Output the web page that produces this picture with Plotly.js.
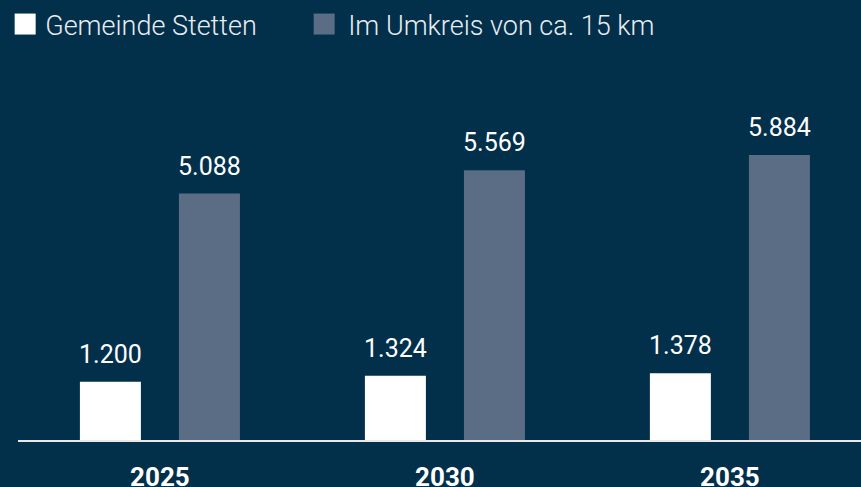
<!DOCTYPE html>
<html><head><meta charset="utf-8">
<script src="https://cdn.plot.ly/plotly-3.0.1.min.js"></script>
<style>html,body{margin:0;padding:0;background:#022f4a;}#chart{width:861px;height:487px;}</style>
</head><body><div id="chart"></div>
<script>
const years = ['2025', '2030', '2035'];
const seriesNames = ['Gemeinde Stetten', 'Im Umkreis von ca. 15 km'];
const stetten = [1200, 1324, 1378];
const umkreis = [5088, 5569, 5884];
const fmt = v => v.toLocaleString('de-DE');

const bg = '#022f4a';
const traces = [
  {type:'bar', name: seriesNames[0], x: years, y: stetten, marker:{color:'#ffffff'}},
  {type:'bar', name: seriesNames[1], x: years, y: umkreis, marker:{color:'#5a6d85'}}
];
const labelFont = {family:'Roboto, sans-serif', size:25, color:'#ffffff'};
const annotations = [];
[stetten, umkreis].forEach((vals, si) => {
  vals.forEach((v, i) => {
    // category axis position = index of the year in the years array
    annotations.push({x: years.indexOf(years[i]), y: v, xref:'x', yref:'y', text: fmt(v), showarrow:false,
      xshift: si === 0 ? -49.5 : 49.5, yshift: 11, yanchor:'bottom', font: labelFont});
  });
});
const layout = {
  width:861, height:487,
  paper_bgcolor:bg, plot_bgcolor:bg,
  margin:{l:18, r:0, t:60, b:47},
  barmode:'group', bargap:0.305, bargroupgap:0.384,
  font:{family:'Roboto, sans-serif', color:'#ffffff'},
  annotations: annotations,
  xaxis:{type:'category', range:[-0.498, 2.46], showgrid:false, zeroline:false,
    showline:true, linecolor:'#e8e8e8', linewidth:2, ticks:'', ticklabelstandoff:13,
    tickfont:{family:'Roboto, sans-serif', size:26, weight:700, color:'#ffffff'}},
  yaxis:{range:[0, 7845], visible:false, showgrid:false, zeroline:false},
  showlegend:true,
  legend:{orientation:'h', x:0.006, xref:'container', xanchor:'left', y:1, yref:'container', yanchor:'top',
    entrywidth:258, entrywidthmode:'pixels',
    font:{family:'Roboto, sans-serif', size:27, weight:300, color:'#e8edf1'},
    bgcolor:'rgba(0,0,0,0)', traceorder:'normal', itemclick:false},
};
Plotly.newPlot('chart', traces, layout, {staticPlot:true}).then(gd => {
  gd.querySelectorAll('.legend [clip-path]').forEach(el => el.removeAttribute('clip-path'));
  gd.querySelectorAll('.legendpoints path').forEach((p, k) => {
    p.setAttribute('d', k === 0 ? 'M10.5,10.5H-10.5V-10.5H10.5Z' : 'M6.5,10.5H-14.5V-10.5H6.5Z');
  });
});
</script></body></html>
